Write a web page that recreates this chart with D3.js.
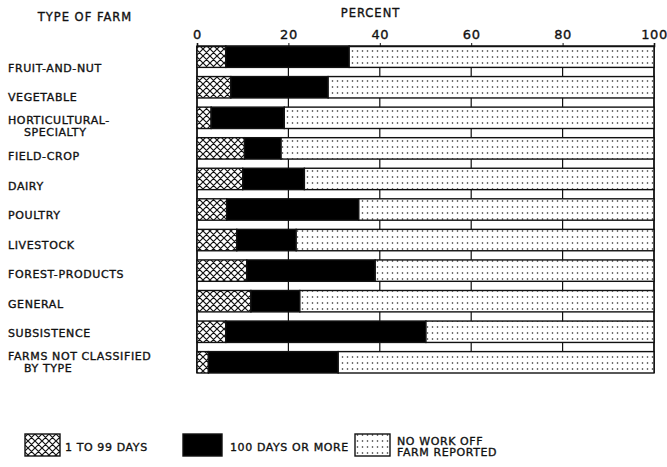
<!DOCTYPE html>
<html>
<head>
<meta charset="utf-8">
<script src="https://cdn.jsdelivr.net/npm/d3@7"></script>
<style>
  body { margin: 0; background: #fff; }
  text { font-family: "DejaVu Sans", sans-serif; font-weight: normal; fill: #111; stroke: #111; stroke-width: 0.35px; letter-spacing: 0.6px; }
</style>
</head>
<body>
<div id="vis-container"></div>
<script>
"use strict";

// Farm types, top to bottom (two-line labels split with "|")
const categories = [
    "FRUIT-AND-NUT", "VEGETABLE", "HORTICULTURAL-|SPECIALTY", "FIELD-CROP", "DAIRY",
    "POULTRY", "LIVESTOCK", "FOREST-PRODUCTS", "GENERAL", "SUBSISTENCE",
    "FARMS NOT CLASSIFIED|BY TYPE"
];

// Percent of farm operators by days of off-farm work
const oneTo99 = [6.3, 7.4, 3.1, 10.4, 10.0, 6.5, 8.7, 10.9, 11.8, 6.3, 2.5];
const over100 = [27.0, 21.3, 16.0, 8.0, 13.5, 28.9, 13.0, 28.1, 10.7, 43.8, 28.4];
const noWork = [66.7, 71.3, 80.9, 81.6, 76.5, 64.6, 78.3, 61.0, 77.5, 49.9, 69.1];

const xTicks = [0, 20, 40, 60, 80, 100];

const seriesKeys = ["oneTo99", "over100", "noWork"];
const legendLabels = [["1 TO 99 DAYS"], ["100 DAYS OR MORE"], ["NO WORK OFF", "FARM REPORTED"]];

function mainIndex()
{
    const width = 667, height = 467;
    const margin = { top: 46, left: 197, right: 13, bottom: 94 };

    const svg = d3.select("#vis-container")
        .append("svg")
        .attr("width", width)
        .attr("height", height);

    // Patterns for the fills
    const defs = svg.append("defs");
    const hatch = defs.append("pattern")
        .attr("id", "hatch")
        .attr("patternUnits", "userSpaceOnUse")
        .attr("width", 7).attr("height", 7);
    hatch.append("rect").attr("width", 7).attr("height", 7).attr("fill", "#fff");
    hatch.append("path")
        .attr("d", "M0,0L7,7M7,0L0,7M-1,6L1,8M6,-1L8,1M-1,1L1,-1M6,8L8,6")
        .attr("stroke", "#111").attr("stroke-width", 1.2);

    const dots = defs.append("pattern")
        .attr("id", "dots")
        .attr("patternUnits", "userSpaceOnUse")
        .attr("width", 5).attr("height", 6);
    dots.append("rect").attr("width", 5).attr("height", 6).attr("fill", "#fff");
    dots.append("circle").attr("cx", 2.5).attr("cy", 3).attr("r", 0.8).attr("fill", "#222");

    const fills = { oneTo99: "url(#hatch)", over100: "#000", noWork: "url(#dots)" };

    const x = d3.scaleLinear().domain([0, 100]).range([margin.left, width - margin.right]);
    const y = d3.scaleBand().domain(categories).range([margin.top, height - margin.bottom]).paddingInner(0.3).paddingOuter(0);
    const labelY = d3.scalePoint().domain(categories).range([68, 363]);

    const table = categories.map((c, i) => ({
        cat: c, oneTo99: oneTo99[i], over100: over100[i], noWork: noWork[i]
    }));
    const stacked = d3.stack().keys(seriesKeys)(table);

    // Vertical grid lines behind the bars
    svg.append("g")
        .selectAll("line")
        .data(xTicks)
        .enter()
        .append("line")
        .attr("x1", d => x(d)).attr("x2", d => x(d))
        .attr("y1", margin.top).attr("y2", height - margin.bottom)
        .attr("stroke", "#111").attr("stroke-width", d => (d === 0 || d === 100) ? 1.8 : 1.2);

    // Bars
    svg.append("g")
        .selectAll("g")
        .data(stacked)
        .enter()
        .append("g")
        .attr("fill", d => fills[d.key])
        .selectAll("rect")
        .data(d => d)
        .enter()
        .append("rect")
        .attr("x", d => x(d[0]))
        .attr("width", d => x(d[1]) - x(d[0]))
        .attr("y", d => y(d.data.cat))
        .attr("height", y.bandwidth())
        .attr("stroke", "#111")
        .attr("stroke-width", 1.4);

    // Top axis with tick labels
    const xAxis = d3.axisTop(x).tickValues(xTicks).tickSize(3).tickPadding(4).tickFormat(d3.format("d"));
    const axisG = svg.append("g")
        .attr("transform", `translate(0,${margin.top})`)
        .call(xAxis);
    axisG.select(".domain").attr("stroke", "#111").attr("stroke-width", 1.6);
    axisG.selectAll(".tick line").attr("stroke", "#111");
    axisG.selectAll(".tick text")
        .style("font-size", "13px")
        .style("font-family", "'DejaVu Sans', sans-serif")
        .attr("fill", "#111");

    svg.append("text")
        .attr("x", x(50) - 55)
        .attr("y", 17)
        .attr("text-anchor", "middle")
        .style("font-size", "11.5px")
        .style("letter-spacing", "1px")
        .text("PERCENT");

    svg.append("text")
        .attr("x", 85)
        .attr("y", 21)
        .attr("text-anchor", "middle")
        .style("font-size", "11.5px")
        .style("letter-spacing", "1px")
        .text("TYPE OF FARM");

    // Category labels
    const labels = svg.append("g")
        .selectAll("text")
        .data(categories)
        .enter()
        .append("text")
        .attr("x", 8)
        .attr("y", d => labelY(d))
        .style("font-size", "11px");
    labels.each(function (d) {
        const parts = d.split("|");
        const t = d3.select(this);
        parts.forEach((p, i) => {
            t.append("tspan")
                .attr("x", i === 0 ? 8 : 24)
                .attr("dy", parts.length === 1 ? "0.35em" : (i === 0 ? "-0.25em" : "1.1em"))
                .text(p);
        });
    });

    // Legend
    const legendX = [25, 183, 355];
    const legendText = [65, 230, 397];
    const legend = svg.append("g")
        .selectAll("g")
        .data(seriesKeys)
        .enter()
        .append("g");
    legend.append("rect")
        .attr("x", (d, i) => legendX[i])
        .attr("y", 434)
        .attr("width", (d, i) => i === 1 ? 39 : 35)
        .attr("height", 22)
        .attr("fill", d => fills[d])
        .attr("stroke", "#111")
        .attr("stroke-width", 1.4);
    legend.append("text")
        .attr("x", (d, i) => legendText[i])
        .attr("y", (d, i) => i === 2 ? 441 : 447)
        .style("font-size", "11px")
        .each(function (d, i) {
            const t = d3.select(this);
            legendLabels[i].forEach((p, j) => {
                t.append("tspan")
                    .attr("x", legendText[i])
                    .attr("dy", j === 0 ? "0.35em" : "1.05em")
                    .text(p);
            });
        });
}

document.addEventListener("DOMContentLoaded", mainIndex);
</script>
</body>
</html>
